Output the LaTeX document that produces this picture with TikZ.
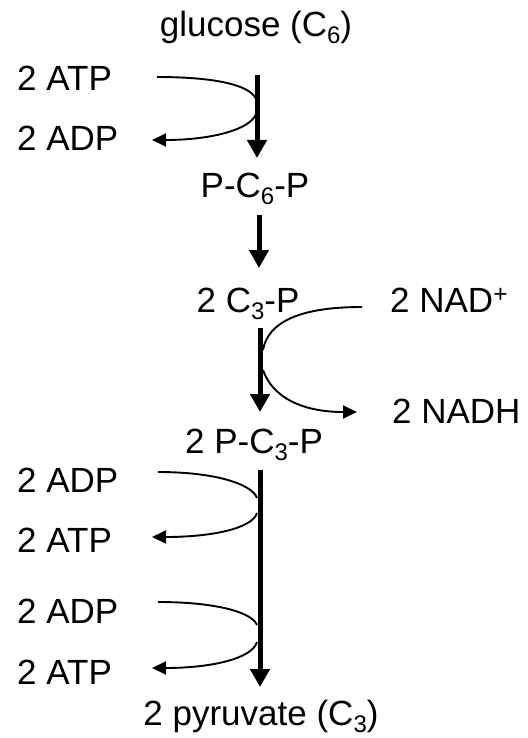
\documentclass[tikz,border=0pt]{standalone}
\usepackage{fontspec}
\setmainfont{Liberation Sans}
\usetikzlibrary{arrows.meta}
\newcommand\lowsub[1]{\raisebox{-0.2em}{\fontsize{24}{24}\selectfont #1}}
\begin{document}
\begin{tikzpicture}[x=1pt,y=-1pt,
  lbl/.style={inner sep=0pt,font=\fontsize{35}{40}\selectfont,text=black},
  mainarrow/.style={line width=5pt,-{Triangle[length=18pt,width=19pt]}},
  sidearrow/.style={line width=1.9pt,-{Triangle[length=14pt,width=13pt]}},
  sideline/.style={line width=1.9pt}]
\useasboundingbox (0,0) rectangle (527,738);
% centre labels
\node[lbl,anchor=base] (glu) at (256,37) {glucose (C\lowsub{6})};
\node[lbl,anchor=base] (pc6p) at (255,197) {P-C\lowsub{6}-P};
\node[lbl,anchor=base] (c3p) at (248,312) {2 C\lowsub{3}-P};
\node[lbl,anchor=base] (pc3p) at (254,453) {2 P-C\lowsub{3}-P};
\node[lbl,anchor=base] (pyr) at (261,725) {2 pyruvate (C\lowsub{3})};
% side labels
\node[lbl,anchor=base west] (atp1) at (17,91) {2 ATP};
\node[lbl,anchor=base west] (adp1) at (17,151) {2 ADP};
\node[lbl,anchor=base west] (nad) at (390,312) {2 NAD\textsuperscript{+}};
\node[lbl,anchor=base west] (nadh) at (392,423) {2 NADH};
\node[lbl,anchor=base west] (adp2) at (17,492) {2 ADP};
\node[lbl,anchor=base west] (atp2) at (17,552) {2 ATP};
\node[lbl,anchor=base west] (adp3) at (17,623) {2 ADP};
\node[lbl,anchor=base west] (atp3) at (17,684) {2 ATP};
% coordinates
\coordinate (a1s) at (257,75);  \coordinate (a1e) at (257,158);
\coordinate (a2s) at (259,215); \coordinate (a2e) at (259,268);
\coordinate (a3s) at (260,328); \coordinate (a3e) at (260,412);
\coordinate (a4s) at (260,470); \coordinate (a4e) at (260,687);
% main arrows
\draw[mainarrow] (a1s) -- (a1e);
\draw[mainarrow] (a2s) -- (a2e);
\draw[mainarrow] (a3s) -- (a3e);
\draw[mainarrow] (a4s) -- (a4e);
% step 1: ATP -> ADP
\coordinate (c1a) at (157,77);  \coordinate (c1b) at (256,99);
\coordinate (c1c) at (256,114); \coordinate (c1d) at (152,140);
\draw[sideline] (c1a) .. controls (215,77) and (250,85) .. (c1b);
\draw[sidearrow] (c1c) .. controls (250,130) and (210,140) .. (c1d);
% NAD+ -> NADH
\coordinate (n1a) at (362,307); \coordinate (n1b) at (263,350);
\coordinate (n1c) at (263,370); \coordinate (n1d) at (357,412);
\draw[sideline] (n1a) .. controls (300,307) and (268,322) .. (n1b);
\draw[sidearrow] (n1c) .. controls (272,396) and (300,412) .. (n1d);
% ADP -> ATP (first)
\coordinate (d1a) at (158,472); \coordinate (d1b) at (257,498);
\coordinate (d1c) at (257,513); \coordinate (d1d) at (152,537);
\draw[sideline] (d1a) .. controls (215,472) and (252,484) .. (d1b);
\draw[sidearrow] (d1c) .. controls (252,529) and (210,537) .. (d1d);
% ADP -> ATP (second)
\coordinate (e1a) at (158,602); \coordinate (e1b) at (257,625);
\coordinate (e1c) at (257,642); \coordinate (e1d) at (152,668);
\draw[sideline] (e1a) .. controls (215,602) and (252,612) .. (e1b);
\draw[sidearrow] (e1c) .. controls (252,659) and (210,668) .. (e1d);
\end{tikzpicture}
\end{document}
